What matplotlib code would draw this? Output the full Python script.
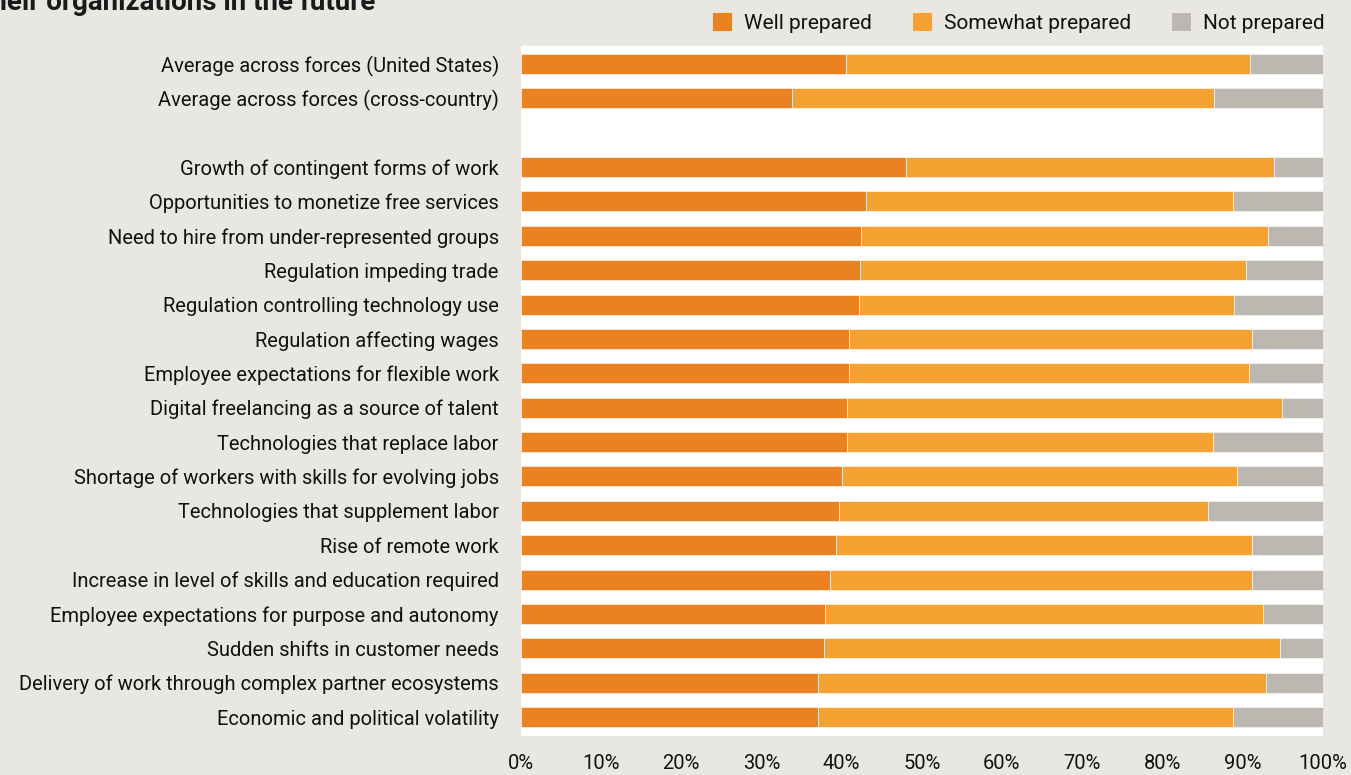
import matplotlib
matplotlib.use("Agg")
import matplotlib.pyplot as plt
import numpy as np

categories = [
    "Average across forces (United States)",
    "Average across forces (cross-country)",
    "Growth of contingent forms of work",
    "Opportunities to monetize free services",
    "Need to hire from under-represented groups",
    "Regulation impeding trade",
    "Regulation controlling technology use",
    "Regulation affecting wages",
    "Employee expectations for flexible work",
    "Digital freelancing as a source of talent",
    "Technologies that replace labor",
    "Shortage of workers with skills for evolving jobs",
    "Technologies that supplement labor",
    "Rise of remote work",
    "Increase in level of skills and education required",
    "Employee expectations for purpose and autonomy",
    "Sudden shifts in customer needs",
    "Delivery of work through complex partner ecosystems",
    "Economic and political volatility",
]
well = [40.5, 33.8, 48.0, 43.0, 42.4, 42.3, 42.2, 40.9, 40.9, 40.7, 40.7, 40.1, 39.7, 39.3, 38.6, 37.9, 37.8, 37.1, 37.1]
somewhat = [50.4, 52.7, 46.0, 45.8, 50.8, 48.1, 46.8, 50.3, 49.9, 54.3, 45.6, 49.2, 46.0, 51.9, 52.6, 54.7, 56.9, 55.8, 51.7]
notp = [100 - w - s for w, s in zip(well, somewhat)]

series_names = ["Well prepared", "Somewhat prepared", "Not prepared"]
colors = ["#EB8222", "#F5A233", "#BCB7B0"]
xticks = [0, 10, 20, 30, 40, 50, 60, 70, 80, 90, 100]
xticklabels = [f"{t}%" for t in xticks]

bg = "#E8E7E2"
FONT = ["Roboto", "DejaVu Sans"]
plt.rcParams["font.family"] = FONT

W, H = 1351, 775
fig = plt.figure(figsize=(W / 100, H / 100), dpi=100, facecolor=bg)
ax = fig.add_axes([521 / W, 1 - 736 / H, (1322.5 - 521) / W, (736 - 46) / H])
ax.set_facecolor("white")

# positions: two averages, one empty slot, then the forces
ypos = np.array([0, 1] + list(range(3, 3 + len(categories) - 2)))
h = 0.58
left = np.zeros(len(categories))
for vals, name, c in zip([well, somewhat, notp], series_names, colors):
    ax.barh(ypos, vals, left=left, height=h, color=c, label=name,
            edgecolor="white", linewidth=0.4)
    left += np.array(vals)

ax.set_xlim(0, 100)
ax.set_ylim(ypos[-1] + 0.55, -0.52)
ax.set_yticks(ypos)
ax.set_yticklabels(categories, fontsize=14.5, color="#111111")
ax.set_xticks(xticks)
ax.set_xticklabels(xticklabels, fontsize=14.5, color="#111111")
ax.tick_params(axis="y", length=0, pad=16)
ax.tick_params(axis="x", length=0, pad=13)
for s in ax.spines.values():
    s.set_visible(False)

leg = fig.legend(loc="upper right", bbox_to_anchor=(1333 / W, 1 - 4 / H), ncol=3,
                 frameon=False, fontsize=15, handlelength=0.95, handleheight=1.0,
                 handletextpad=0.6, columnspacing=1.9, borderaxespad=0)
for t in leg.get_texts():
    t.set_color("#111111")

fig.text(375 / W, 1 - 9.5 / H, "their organizations in the future", ha="right", va="baseline",
         fontsize=20, fontweight="bold", color="#1a1a1a")

fig.savefig("out.png", dpi=100, facecolor=bg)
